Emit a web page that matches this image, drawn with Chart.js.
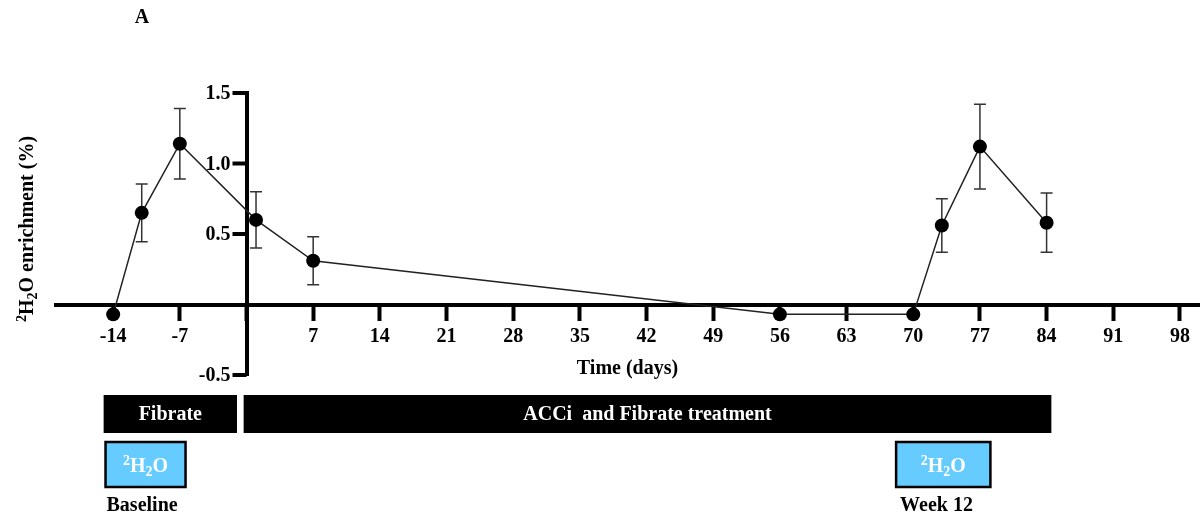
<!DOCTYPE html>
<html>
<head>
<meta charset="utf-8">
<script src="https://cdn.jsdelivr.net/npm/chart.js@4.4.0/dist/chart.umd.min.js"></script>
<style>
  html, body { margin: 0; padding: 0; background: #fff; }
  #wrap { width: 1201px; height: 518px; }
</style>
</head>
<body>
<div id="wrap"><canvas id="myChart"></canvas></div>
<script>
// ölçüm günleri, ortalama 2H2O zenginleşmesi (%) ve SEM
const days = [-14, -11, -7, 1, 7, 56, 70, 73, 77, 84];
const enrichment = [-0.07, 0.65, 1.14, 0.60, 0.31, -0.07, -0.07, 0.56, 1.12, 0.58];
const sem = [0, 0.205, 0.25, 0.20, 0.17, 0, 0, 0.19, 0.30, 0.21];

// eksen tikleri
const xTicks = [-14, -7, 0, 7, 14, 21, 28, 35, 42, 49, 56, 63, 70, 77, 84, 91, 98];
const yTicks = [-0.5, 0, 0.5, 1.0, 1.5];

// tedavi dönemleri (gün)
const phaseLabels = ['Fibrate', 'ACCi  and Fibrate treatment'];
const phaseStart = [-15, -0.3];
const phaseEnd = [-1, 84.5];

// 2H2O verilen dönemler (gün)
const labelNames = ['Baseline', 'Week 12'];
const labelStart = [-14.8, 68.2];
const labelEnd = [-6.4, 78.1];

const SERIF = '"Liberation Serif", "Times New Roman", serif';
function font(size) {
    return 'bold ' + size + 'px ' + SERIF;
}

// "²H₂O" metnini küçük rakamları kaydırarak çiziyoruz, baseline y'de
function drawH2O(ctx, x, y, size, align, rest) {
    const small = Math.round(size * 0.68);
    const parts = [
        { t: '2', f: font(small), dy: -size * 0.34 },
        { t: 'H', f: font(size), dy: 0 },
        { t: '2', f: font(small), dy: size * 0.2 },
        { t: 'O', f: font(size), dy: 0 }
    ];
    if (rest) parts.push({ t: rest, f: font(size), dy: 0 });
    ctx.textBaseline = 'alphabetic';
    ctx.textAlign = 'left';
    let total = 0;
    parts.forEach(p => { ctx.font = p.f; p.w = ctx.measureText(p.t).width; total += p.w; });
    let cx = align === 'center' ? x - total / 2 : x;
    parts.forEach(p => {
        ctx.font = p.f;
        ctx.fillText(p.t, cx, y + p.dy);
        cx += p.w;
    });
}

// hata çubukları, noktaların altında kalsın diye önce çiziliyor
const errorBars = {
    id: 'errorBars',
    beforeDatasetsDraw(chart) {
        const ctx = chart.ctx;
        const x = chart.scales.x, y = chart.scales.y;
        ctx.save();
        ctx.strokeStyle = '#333';
        ctx.lineWidth = 1.5;
        days.forEach((d, i) => {
            if (!sem[i]) return;
            const px = x.getPixelForValue(d);
            const top = y.getPixelForValue(enrichment[i] + sem[i]);
            const bot = y.getPixelForValue(enrichment[i] - sem[i]);
            ctx.beginPath();
            ctx.moveTo(px, top); ctx.lineTo(px, bot);
            ctx.moveTo(px - 6, top); ctx.lineTo(px + 6, top);
            ctx.moveTo(px - 6, bot); ctx.lineTo(px + 6, bot);
            ctx.stroke();
        });
        ctx.restore();
    }
};

// y ekseni ortada olunca etiketler eksene yapışıyor, o yüzden tik ve etiketleri biz çiziyoruz
const yAxisLabels = {
    id: 'yAxisLabels',
    afterDraw(chart) {
        const ctx = chart.ctx;
        const y = chart.scales.y;
        const ax = chart.scales.x.getPixelForValue(0);
        ctx.save();
        ctx.strokeStyle = '#000';
        ctx.fillStyle = '#000';
        ctx.lineWidth = 4;
        ctx.font = font(20);
        ctx.textAlign = 'right';
        ctx.textBaseline = 'middle';
        yTicks.forEach(v => {
            if (v === 0) return;
            const py = y.getPixelForValue(v);
            ctx.beginPath();
            ctx.moveTo(ax, py);
            ctx.lineTo(ax - 14, py);
            ctx.stroke();
            ctx.fillText(v.toFixed(1), ax - 16, py + 1);
        });
        ctx.restore();
    }
};

// başlıklar ve alttaki zaman çizelgesi
const extras = {
    id: 'extras',
    afterDraw(chart) {
        const ctx = chart.ctx;
        const x = chart.scales.x;
        const area = chart.chartArea;
        ctx.save();
        ctx.fillStyle = '#000';

        ctx.font = font(20);
        ctx.textAlign = 'center';
        ctx.textBaseline = 'middle';
        ctx.fillText('A', 142, 18);
        ctx.fillText('Time (days)', (x.left + x.right) / 2, 369);

        ctx.save();
        ctx.translate(26, 229);
        ctx.rotate(-Math.PI / 2);
        drawH2O(ctx, 0, 7, 20, 'center', ' enrichment (%)');
        ctx.restore();

        // tedavi çubukları
        const barTop = area.bottom + 20;
        phaseLabels.forEach((lab, i) => {
            const x0 = x.getPixelForValue(phaseStart[i]);
            const x1 = x.getPixelForValue(phaseEnd[i]);
            ctx.fillStyle = '#000';
            ctx.fillRect(x0, barTop, x1 - x0, 38);
            ctx.fillStyle = '#fff';
            ctx.font = font(20);
            ctx.textAlign = 'center';
            ctx.textBaseline = 'middle';
            ctx.fillText(lab, (x0 + x1) / 2, barTop + 20);
        });

        // 2H2O kutuları
        const boxTop = area.bottom + 67;
        labelNames.forEach((lab, i) => {
            const x0 = x.getPixelForValue(labelStart[i]);
            const x1 = x.getPixelForValue(labelEnd[i]);
            ctx.fillStyle = '#66CCFF';
            ctx.fillRect(x0, boxTop, x1 - x0, 45);
            ctx.strokeStyle = '#000';
            ctx.lineWidth = 2.5;
            ctx.strokeRect(x0, boxTop, x1 - x0, 45);
            ctx.fillStyle = '#fff';
            drawH2O(ctx, (x0 + x1) / 2, boxTop + 30, 20, 'center');
            ctx.fillStyle = '#000';
            ctx.font = font(20);
            ctx.textAlign = 'left';
            ctx.textBaseline = 'middle';
            ctx.fillText(lab, x0 + (i ? 4 : 1), area.bottom + 131);
        });
        ctx.restore();
    }
};

const ctx = document.getElementById('myChart').getContext('2d');
const chart = new Chart(ctx, {
    type: 'line',
    data: {
        datasets: [{
            data: days.map((d, i) => ({ x: d, y: enrichment[i] })),
            borderColor: '#222',
            borderWidth: 1.5,
            pointRadius: 7,
            pointBackgroundColor: '#000',
            pointBorderWidth: 0,
            tension: 0,
            clip: false
        }]
    },
    options: {
        responsive: true,
        maintainAspectRatio: false,
        animation: false,
        layout: { autoPadding: false, padding: { left: 56, right: 2, top: 93, bottom: 143 } },
        plugins: { legend: { display: false }, tooltip: { enabled: false } },
        scales: {
            x: {
                type: 'linear',
                min: -20,
                max: 100,
                position: { y: 0 },
                afterFit: s => { s.height = 0; s.paddingLeft = 0; s.paddingRight = 0; },
                afterBuildTicks: s => { s.ticks = xTicks.map(v => ({ value: v })); },
                grid: { drawOnChartArea: false, drawTicks: true, tickLength: 14, tickWidth: 4, color: '#000' },
                border: { display: true, width: 4, color: '#000' },
                ticks: {
                    color: '#000',
                    font: { family: SERIF, size: 20, weight: 'bold' },
                    padding: 6,
                    maxRotation: 0,
                    autoSkip: false,
                    callback: v => v === 0 ? '' : v
                }
            },
            y: {
                type: 'linear',
                min: -0.5,
                max: 1.5,
                position: { x: 0 },
                afterFit: s => { s.width = 0; s.paddingTop = 0; s.paddingBottom = 0; },
                afterBuildTicks: s => { s.ticks = yTicks.map(v => ({ value: v })); },
                grid: { display: false },
                border: { display: true, width: 4, color: '#000' },
                ticks: { display: false }
            }
        }
    },
    plugins: [errorBars, yAxisLabels, extras]
});
</script>
</body>
</html>
